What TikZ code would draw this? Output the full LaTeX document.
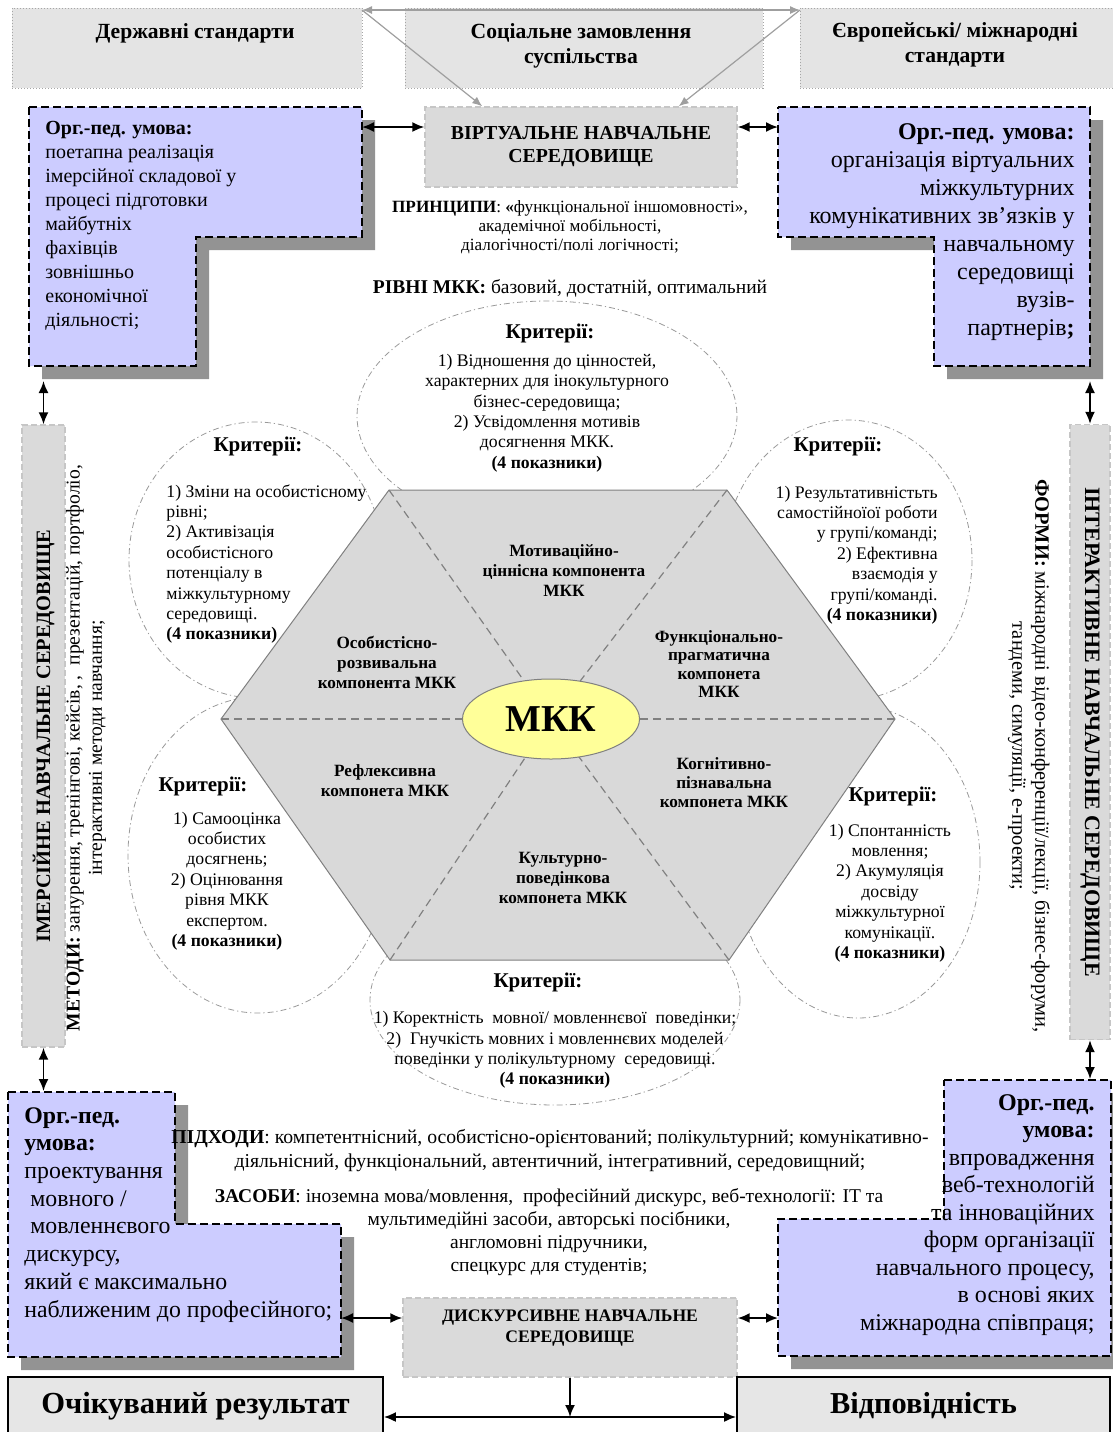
\documentclass[tikz,border=0pt]{standalone}
\usepackage{fontspec}
\setmainfont{Liberation Serif}
\usetikzlibrary{arrows.meta,calc,shapes.geometric}
\definecolor{lav}{HTML}{CCCCFF}
\definecolor{shd}{HTML}{939393}
\definecolor{envfill}{HTML}{DADADA}
\definecolor{topfill}{HTML}{E4E4E4}
\definecolor{resfill}{HTML}{E6E6E6}
\definecolor{hexfill}{HTML}{D9D9D9}
\definecolor{mkkfill}{HTML}{FFFF99}
\newcommand\fsz[2]{\fontsize{#1}{#2}\selectfont}
\begin{document}
\begin{tikzpicture}[x=0.5pt,y=-0.5pt,
  every node/.style={inner sep=0pt},
  topbox/.style={draw=gray!70, densely dotted, fill=topfill, line width=0.5pt},
  envbox/.style={draw=gray!45, dash pattern=on 3pt off 1.5pt, fill=envfill, line width=0.7pt},
  resbox/.style={draw=black, fill=resfill, line width=0.9pt},
  corner/.style={draw=black, fill=lav, dash pattern=on 4pt off 2pt, line width=0.8pt},
  arr/.style={line width=0.9pt, {Latex[length=6pt,width=5pt]}-{Latex[length=6pt,width=5pt]}},
  arrone/.style={line width=0.9pt, -{Latex[length=6pt,width=5pt]}},
  garr/.style={draw=gray!75, line width=0.6pt},
  gtip/.style={-{Latex[length=5pt,width=4pt]}},
  crit/.style={draw=gray!80, line width=0.4pt, dash pattern=on 3pt off 1.5pt on 0.6pt off 1.5pt},
  ctext/.style={font=\fsz{8.85}{10.2}, align=center},
  ctitle/.style={font=\fsz{10.5}{12}\bfseries},
  comp/.style={font=\fsz{8.6}{10}\bfseries, align=center},
]
\useasboundingbox (0,0) rectangle (1113,1432);

% ---------- top boxes
\node[topbox, minimum width=175pt, minimum height=40pt] (ds) at (187,48) {};
\node[topbox, minimum width=179pt, minimum height=40pt] (sz) at (584,48) {};
\node[topbox, minimum width=157pt, minimum height=40pt] (es) at (957,48) {};
\node[font=\fsz{10.8}{12.5}\bfseries] (dst) at (195,33) {Державні стандарти};
\node[font=\fsz{10.8}{12.5}\bfseries, align=center] (szt) at (581,45.5) {Соціальне замовлення\\суспільства};
\node[font=\fsz{10.8}{12.5}\bfseries, align=center] (est) at (955,45) {Європейські/ міжнародні\\стандарти};

% ---------- virtual box
\node[envbox, minimum width=156pt, minimum height=40pt, font=\fsz{9.9}{11.5}\bfseries, align=center] (vb) at (581,147) {ВІРТУАЛЬНЕ НАВЧАЛЬНЕ\\СЕРЕДОВИЩЕ};

% gray connectors at top
\coordinate (gL) at (362,10);
\coordinate (gR) at (800,10);
\draw[garr, {Latex[length=5pt,width=4pt]}-{Latex[length=5pt,width=4pt]}] (gL) -- (gR);
\draw[garr, gtip] (gL) -- ($(vb.north west)+(58,0)$);
\draw[garr, gtip] (gR) -- ($(vb.north east)+(-59,0)$);

% ---------- principles
\node[font=\fsz{8.6}{9.5}, align=center] (pr) at (570,227) {\textbf{ПРИНЦИПИ}: \textbf{«}функціональної іншомовності»,\\ академічної мобільності,\\ діалогічності/полі логічності;};
\node[font=\fsz{9.75}{11}] (rv) at (570,288) {\textbf{РІВНІ МКК:} базовий, достатній, оптимальний};

% ---------- criteria ellipses
\draw[crit] (547,416) ellipse [x radius=190, y radius=115];
\draw[crit] (256,560) ellipse [x radius=127, y radius=138];
\draw[crit] (848,560) ellipse [x radius=124, y radius=140];
\draw[crit] (258,855) ellipse [x radius=130, y radius=158];
\draw[crit] (858,862) ellipse [x radius=122, y radius=156];
\draw[crit] (555,1000) ellipse [x radius=185, y radius=105];

% ---------- hexagon
\coordinate (h1) at (221,719);
\coordinate (h2) at (389,490);
\coordinate (h3) at (727,490);
\coordinate (h4) at (895,719);
\coordinate (h5) at (729,960);
\coordinate (h6) at (390,960);
\coordinate (hc) at (551,719);
\draw[fill=hexfill, draw=gray, line width=0.5pt] (h1) -- (h2) -- (h3) -- (h4) -- (h5) -- (h6) -- cycle;
\foreach \h in {h1,h2,h3,h4,h5,h6}
  \draw[gray, dash pattern=on 4pt off 2.5pt, line width=0.6pt] (\h) -- (hc);
\node[ellipse, draw=gray, fill=mkkfill, line width=0.5pt, minimum width=88.5pt, minimum height=40pt, font=\fsz{19}{20}\bfseries] (mkk) at (hc) {МКК};

\node[comp] (c1) at (564,571) {Мотиваційно-\\ціннісна компонента\\МКК};
\node[comp] (c2) at (387,662) {Особистісно-\\розвивальна\\компонента МКК};
\node[comp, font=\fsz{8.6}{9.2}\bfseries] (c3) at (719,664) {Функціонально-\\прагматична\\компонета\\МКК};
\node[comp] (c4) at (385,781) {Рефлексивна\\компонета МКК};
\node[comp, font=\fsz{8.6}{9.5}\bfseries] (c5) at (724,783) {Когнітивно-\\пізнавальна\\компонета МКК};
\node[comp] (c6) at (563,878) {Культурно-\\поведінкова\\компонета МКК};

% ---------- criteria texts
\node[ctitle] (k1) at (550,333) {Критерії:};
\node[ctext] (t1) at (547,413) {1) Відношення до цінностей,\\характерних для інокультурного\\бізнес-середовища;\\2) Усвідомлення мотивів\\досягнення МКК.\\\textbf{(4 показники)}};
\node[ctitle] (k2) at (258,446) {Критерії:};
\node[ctext, align=left, anchor=west] (t2) at (166,564) {1) Зміни на особистісному\\рівні;\\2) Активізація\\особистісного\\потенціалу в\\міжкультурному\\середовищі.\\\textbf{(4 показники)}};
\node[ctitle] (k3) at (838,446) {Критерії:};
\node[ctext, align=right, anchor=east] (t3) at (938,555) {1) Результативністьть\\самостійноїої роботи\\у групі/команді;\\2) Ефективна\\взаємодія у\\групі/команді.\\\textbf{(4 показники)}};
\node[ctitle] (k4) at (203,786) {Критерії:};
\node[ctext] (t4) at (227,881) {1) Самооцінка\\особистих\\досягнень;\\2) Оцінювання\\рівня МКК\\експертом.\\\textbf{(4 показники)}};
\node[ctitle] (k5) at (893,796) {Критерії:};
\node[ctext] (t5) at (890,893) {1) Спонтанність\\мовлення;\\2) Акумуляція\\досвіду\\міжкультурної\\комунікації.\\\textbf{(4 показники)}};
\node[ctitle] (k6) at (538,982) {Критерії:};
\node[ctext] (t6) at (555,1050) {1) Коректність\ \ мовної/ мовленнєвої\ \ поведінки;\\2)\ \ Гнучкість мовних і мовленнєвих моделей\\поведінки у полікультурному\ \ середовищі.\\\textbf{(4 показники)}};

% ---------- side boxes
\node[envbox, minimum width=21.5pt, minimum height=311pt] (imb) at (43.5,736) {};
\node[rotate=90, font=\fsz{10.2}{11}\bfseries] (imbt) at (imb.center) {ІМЕРСІЙНЕ НАВЧАЛЬНЕ СЕРЕДОВИЩЕ};
\node[rotate=90, font=\fsz{9.8}{11.2}, align=center] (met) at (86,748) {\textbf{МЕТОДИ:} занурення, тренінгові, кейсів, ,\ \ презентацій, портфоліо,\\інтерактивні методи навчання;};
\node[envbox, minimum width=20pt, minimum height=307.5pt] (ib) at (1090,732) {};
\node[rotate=-90, font=\fsz{11}{12}\bfseries] (ibt) at (ib.center) {ІНТЕРАКТИВНЕ НАВЧАЛЬНЕ СЕРЕДОВИЩЕ};
\node[rotate=-90, font=\fsz{10.2}{11.5}, align=center] (frm) at (1029,756) {\textbf{ФОРМИ:} міжнародні відео-конференції/лекції, бізнес-форуми,\\тандеми, симуляції, е-проекти;};

% ---------- bottom texts
\node[font=\fsz{9.75}{11.5}, align=center] (zs) at (549,1232) {\textbf{ЗАСОБИ}: іноземна мова/мовлення,\ \ професійний дискурс, веб-технології: IT та\\мультимедійні засоби, авторські посібники,\\англомовні підручники,\\спецкурс для студентів;};

% ---------- corner shapes
% top-left
\fill[shd, shift={(13,13)}] (29,107) -- (362,107) -- (362,237) -- (196,237) -- (196,366) -- (29,366) -- cycle;
\draw[corner] (29,107) -- (362,107) -- (362,237) -- (196,237) -- (196,366) -- (29,366) -- cycle;
\node[anchor=north west, align=left, font=\fsz{10}{12}] (tlt) at (45,121) {\textbf{Орг.-пед. умова:}\\поетапна реалізація\\імерсійної складової у\\процесі підготовки\\майбутніх\\фахівців\\зовнішньо\\економічної\\діяльності;};
% top-right
\fill[shd, shift={(13,13)}] (778,107) -- (1090,107) -- (1090,366) -- (934,366) -- (934,237) -- (778,237) -- cycle;
\draw[corner] (778,107) -- (1090,107) -- (1090,366) -- (934,366) -- (934,237) -- (778,237) -- cycle;
\node[anchor=north east, align=right, font=\fsz{12}{14}] (trt) at (1075,123) {\textbf{Орг.-пед. умова:}\\організація віртуальних\\міжкультурних\\комунікативних зв’язків у\\навчальному\\середовищі\\вузів-\\партнерів\textbf{;}};
% bottom-left
\fill[shd, shift={(13,13)}] (8,1092) -- (175,1092) -- (175,1224) -- (341,1224) -- (341,1357) -- (8,1357) -- cycle;
\draw[corner] (8,1092) -- (175,1092) -- (175,1224) -- (341,1224) -- (341,1357) -- (8,1357) -- cycle;
\node[anchor=north west, align=left, font=\fsz{11.9}{13.85}] (blt) at (24,1107) {\textbf{Орг.-пед.}\\\textbf{умова:}\\проектування\\\ мовного /\\\ мовленнєвого\\дискурсу,\\який є максимально\\наближеним до професійного;};
% bottom-right
\fill[shd, shift={(13,13)}] (944,1080) -- (1111,1080) -- (1111,1356) -- (778,1356) -- (778,1219) -- (944,1219) -- cycle;
\draw[corner] (944,1080) -- (1111,1080) -- (1111,1356) -- (778,1356) -- (778,1219) -- (944,1219) -- cycle;
\node[anchor=north east, align=right, font=\fsz{12}{13.75}] (brt) at (1095,1094) {\textbf{Орг.-пед.}\\\textbf{умова:}\\впровадження\\веб-технологій\\та інноваційних\\форм організації\\навчального процесу,\\в основі яких\\міжнародна співпраця;};

% approaches text (drawn over the shadow, as in the reference)
\node[font=\fsz{9.85}{12}, align=center] (pd) at (550,1151) {\textbf{ПІДХОДИ}: компетентнісний, особистісно-орієнтований; полікультурний; комунікативно-\\діяльнісний, функціональний, автентичний, інтегративний, середовищний;};

% ---------- discursive box and results
\node[envbox, minimum width=167pt, minimum height=39.5pt] (dsb) at (570,1337.5) {};
\node[font=\fsz{8.8}{10.5}\bfseries, align=center] (dsbt) at (570,1328) {ДИСКУРСИВНЕ НАВЧАЛЬНЕ\\СЕРЕДОВИЩЕ};
\node[resbox, minimum width=187.5pt, minimum height=29pt, font=\fsz{15.3}{17}\bfseries] (res) at (195.5,1406) {Очікуваний результат};
\node[resbox, minimum width=186.5pt, minimum height=29pt, font=\fsz{15.2}{17}\bfseries] (vid) at (923.5,1406) {Відповідність};

% ---------- black connectors
\coordinate (tlR) at (362,127);
\coordinate (trL) at (778,127);
\coordinate (tlB) at (43.5,381);
\coordinate (blT) at (43.5,1091);
\coordinate (trB) at (1090,381);
\coordinate (brT) at (1090,1079);
\coordinate (blR) at (341,1318);
\coordinate (brL) at (778,1318);
\coordinate (mid) at (570,1417);
\draw[arr] (tlR) -- (vb.west |- tlR);
\draw[arr] (vb.east |- trL) -- (trL);
\draw[arr] (tlB) -- (imb.north);
\draw[arr] (imb.south) -- (blT);
\draw[arr] (trB) -- (ib.north);
\draw[arr] (ib.south) -- (brT);
\draw[arr] (blR) -- (dsb.west |- blR);
\draw[arr] (dsb.east |- brL) -- (brL);
\draw[arr] (res.east |- mid) -- (vid.west |- mid);
\draw[arrone] (dsb.south) -- (mid);
\end{tikzpicture}
\end{document}
